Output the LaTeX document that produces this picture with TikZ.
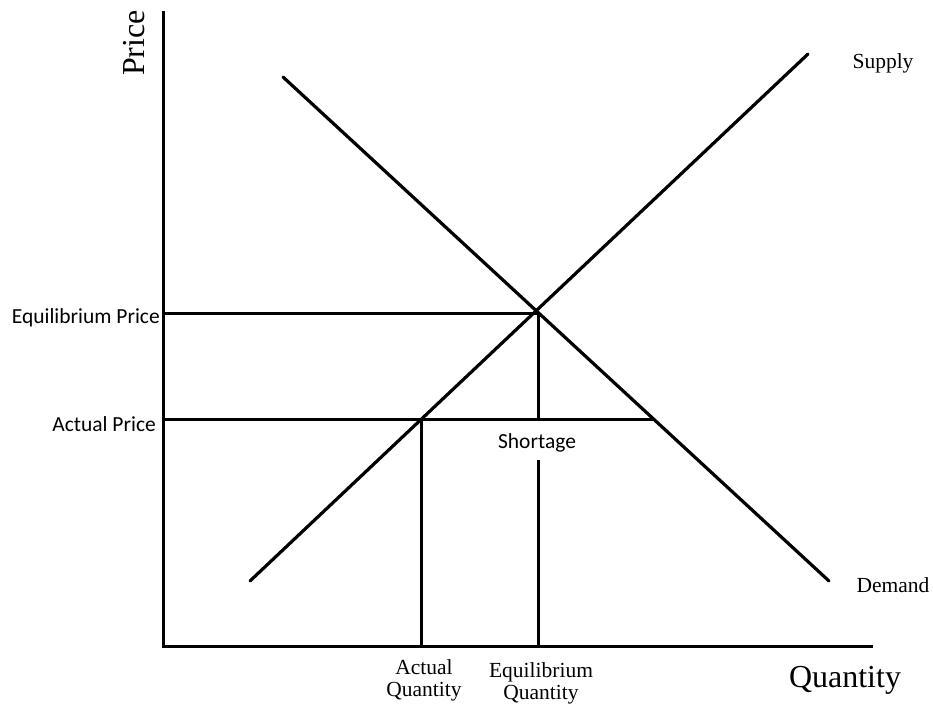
\documentclass[tikz,border=0pt]{standalone}
\usepackage{fontspec}
\setmainfont{Liberation Serif}
\newfontfamily\calib{Carlito}
\begin{document}
\begin{tikzpicture}[x=1pt,y=-1pt,
  ln/.style={line width=3pt,line cap=butt},
  curve/.style={line width=3.2pt,line cap=round},
  sanslbl/.style={font=\calib\fontsize{21.5}{24}\selectfont,inner sep=0pt},
  serlbl/.style={font=\fontsize{21.5}{22}\selectfont,inner sep=0pt,align=center},
  biglbl/.style={font=\fontsize{32}{33}\selectfont,inner sep=0pt}]
\useasboundingbox (0,0) rectangle (933,709);
% key coordinates
\coordinate (otop) at (163,11);
\coordinate (o) at (163,646);
\coordinate (xend) at (873,646);
\coordinate (E) at (538,313);
\coordinate (ep) at (163,313);
\coordinate (ap) at (163,419);
\coordinate (A) at (421,419);
\coordinate (D) at (653,419);
\coordinate (aq) at (421,646);
\coordinate (eq) at (538,646);
\coordinate (eqa) at (538,419);
\coordinate (eqb) at (538,460);
\coordinate (s1) at (250,581);
\coordinate (s2) at (808,54);
\coordinate (d1) at (283,77);
\coordinate (d2) at (829,581);
% axes
\draw[ln,line join=miter] (otop) -- (o) -- (xend);
% curves
\draw[curve] (s1) -- (s2);
\draw[curve] (d1) -- (d2);
% guide lines
\draw[ln] (ep) -- (E);
\draw[ln] (ap) -- (D);
\draw[ln] (A) -- (aq);
\draw[ln] (E) -- (eqa);
\draw[ln] (eqb) -- (eq);
% labels
\node[biglbl,rotate=90] (price) at (134,43) {Price};
\node[biglbl] (qty) at (845,680) {Quantity};
\node[serlbl] (sup) at (883,63) {Supply};
\node[serlbl] (dem) at (893,585) {Demand};
\node[sanslbl,anchor=east] (eplbl) at (160,318) {Equilibrium Price};
\node[sanslbl,anchor=east] (aplbl) at (156,424) {Actual Price};
\node[sanslbl] (short) at (537,443) {Shortage};
\node[serlbl] (aqlbl) at (424,680) {Actual\\Quantity};
\node[serlbl] (eqlbl) at (541,683) {Equilibrium\\Quantity};
\end{tikzpicture}
\end{document}
